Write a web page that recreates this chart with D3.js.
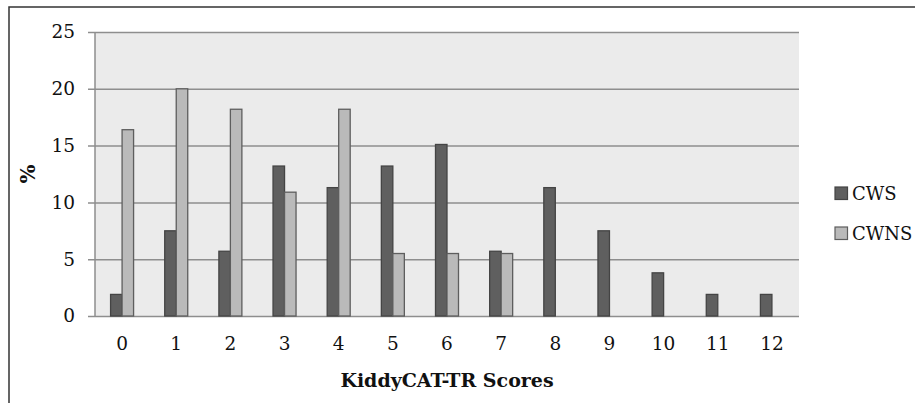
<!DOCTYPE html>
<html>
<head>
<meta charset="utf-8">
<script src="https://cdn.jsdelivr.net/npm/d3@7"></script>
<style>
  body { margin: 0; background: #fff; }
  svg text { font-family: "DejaVu Serif", serif; fill: #111; }
</style>
</head>
<body>
<div id="chart"><svg></svg></div>
<script>
const scores = ["0", "1", "2", "3", "4", "5", "6", "7", "8", "9", "10", "11", "12"];
const cws = [1.9, 7.5, 5.7, 13.2, 11.3, 13.2, 15.1, 5.7, 11.3, 7.5, 3.8, 1.9, 1.9];
const cwns = [16.4, 20, 18.2, 10.9, 18.2, 5.5, 5.5, 5.5, 0, 0, 0, 0, 0];
const seriesNames = ["CWS", "CWNS"];
const yTicks = [0, 5, 10, 15, 20, 25];

const chartSize = {width: 915, height: 403};
const margin = {left: 95, right: 116, top: 32, bottom: 87};
const width = chartSize.width - margin.left - margin.right;
const height = chartSize.height - margin.top - margin.bottom;

const fills = {CWS: "#5f5f5f", CWNS: "#bababa"};
const strokes = {CWS: "#444", CWNS: "#5e5e5e"};

const svg = d3.select("#chart svg")
  .attr("width", chartSize.width)
  .attr("height", chartSize.height);

// outer frame (clipped by window on right and bottom)
svg.append("path")
  .attr("d", `M9,${chartSize.height + 2} V7 H${chartSize.width + 2}`)
  .attr("fill", "none")
  .attr("stroke", "#333")
  .attr("stroke-width", 1.5);

const g = svg.append("g")
  .attr("transform", `translate(${margin.left},${margin.top})`);

const x = d3.scaleBand().domain(scores).range([0, width]);
const x1 = d3.scaleBand().domain(seriesNames)
  .range([x.bandwidth() / 2 - 11.5, x.bandwidth() / 2 + 11.5]);
const y = d3.scaleLinear().domain([0, 25]).range([height, 0]);

g.append("rect")
  .attr("width", width)
  .attr("height", height)
  .attr("fill", "#ebebeb");

const yAxis = d3.axisLeft(y).tickValues(yTicks).tickSize(-width).tickPadding(20);
const yG = g.append("g").call(yAxis);
yG.select(".domain").remove();
yG.selectAll(".tick line")
  .attr("x1", -7)
  .attr("stroke", "#8e8e8e")
  .attr("stroke-width", 1.5);
yG.selectAll(".tick text")
  .attr("font-size", 18.5)
  .attr("font-family", "DejaVu Serif");

g.append("line")
  .attr("y1", 0).attr("y2", height)
  .attr("stroke", "#8e8e8e")
  .attr("stroke-width", 1.5);

const xAxis = d3.axisBottom(x).tickSize(0).tickPadding(21);
const xG = g.append("g")
  .attr("transform", `translate(0,${height})`)
  .call(xAxis);
xG.select(".domain").remove();
xG.selectAll(".tick text")
  .attr("font-size", 18.5)
  .attr("font-family", "DejaVu Serif");

const rows = scores.map((s, i) => ({score: s, CWS: cws[i], CWNS: cwns[i]}));

const groups = g.selectAll(".cat")
  .data(rows)
  .enter()
  .append("g")
  .attr("transform", d => `translate(${x(d.score)},0)`);

groups.selectAll("rect")
  .data(d => seriesNames.map(k => ({key: k, value: d[k]})).filter(b => b.value > 0))
  .enter()
  .append("rect")
  .attr("x", b => x1(b.key))
  .attr("y", b => y(b.value))
  .attr("width", x1.bandwidth())
  .attr("height", b => y(0) - y(b.value))
  .attr("fill", b => fills[b.key])
  .attr("stroke", b => strokes[b.key])
  .attr("stroke-width", 1.3);

// axis titles
g.append("text")
  .attr("x", width / 2)
  .attr("y", height + 71)
  .attr("text-anchor", "middle")
  .attr("font-size", 19)
  .attr("font-weight", "bold")
  .text("KiddyCAT-TR Scores");

g.append("text")
  .attr("transform", `translate(${-60},${height / 2}) rotate(-90)`)
  .attr("text-anchor", "middle")
  .attr("font-size", 20)
  .attr("font-weight", "bold")
  .text("%");

// legend
const legend = svg.append("g")
  .attr("transform", "translate(835,187)");

const item = legend.selectAll("g")
  .data(seriesNames)
  .enter()
  .append("g")
  .attr("transform", (d, i) => `translate(0,${i * 40})`);

item.append("rect")
  .attr("width", 12.5)
  .attr("height", 12.5)
  .attr("fill", d => fills[d])
  .attr("stroke", d => strokes[d])
  .attr("stroke-width", 1.2);

item.append("text")
  .attr("x", 17)
  .attr("y", 12.5)
  .attr("font-size", 18)
  .text(d => d);
</script>
</body>
</html>
